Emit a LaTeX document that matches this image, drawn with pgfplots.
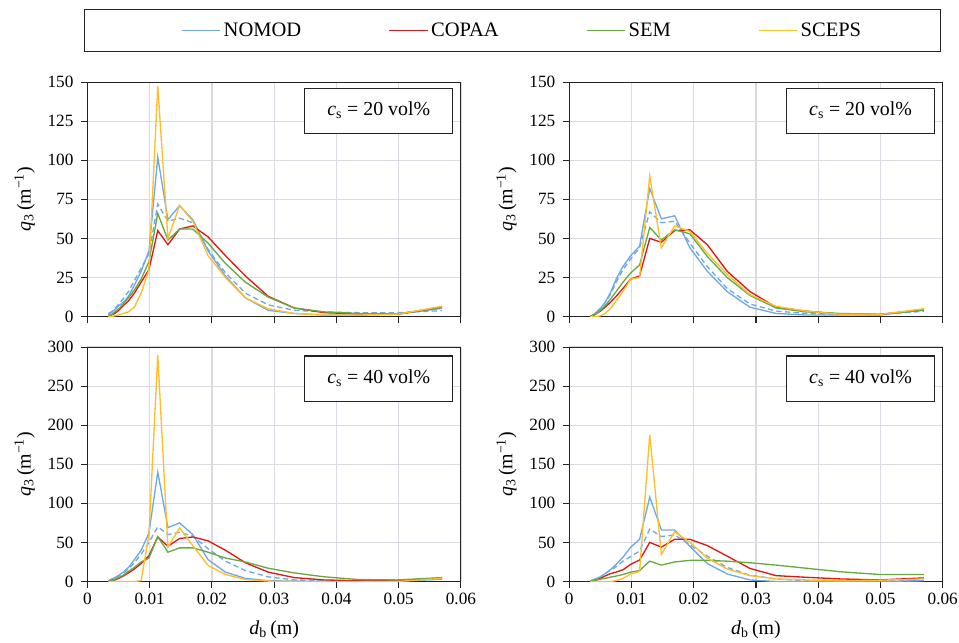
\documentclass[border=0pt]{standalone}
\usepackage{fontspec}
\setmainfont{Liberation Serif}
\usepackage{pgfplots}
\usepackage{pgfplotstable}
\pgfplotsset{compat=1.18}

\definecolor{nomodc}{RGB}{110,168,230}
\definecolor{copaac}{RGB}{224,22,22}
\definecolor{semc}{RGB}{104,170,64}
\definecolor{scepsc}{RGB}{255,190,40}
\definecolor{gridc}{RGB}{222,216,226}
\definecolor{framec}{RGB}{35,35,35}

% d_b (m), q3 per model, mean = dashed blue
\pgfplotstableread{
d       nomod copaa sem  sceps mean
0.00336 1     0     0    0     2
0.00384 2.5   1     1    0     3
0.00440 4.5   2     3    0.5   5
0.00503 7     4     5    1     8
0.00576 9     7     8    2     11.5
0.00659 13    10    12   3     16
0.00754 20    15    17   6     23
0.00863 29    22    24   15    31
0.00988 42    30    35   30    40
0.01130 102   55    66   147.5 72
0.01293 62    46    49   50    61
0.01480 71    56    56   71    63
0.01693 62    58    56   61    60
0.01938 42    51    47   39    43
0.02217 26    39    34   25    28
0.02537 12    26    22   12    15
0.02903 4     13    12.5 5     7.5
0.03322 2     5.5   5.5  2     4
0.03802 1     2.5   3    1     3
0.04350 1     1.7   2    1     2.5
0.04978 1.5   1.5   1.5  1.5   2.5
0.05696 5.3   6     6    6.6   3.8
}\tl

\pgfplotstableread{
d       nomod copaa sem  sceps mean
0.00336 0     0     0    0     0
0.00384 1     0.5   1    0     1
0.00440 3     2     2    0     3
0.00503 5.5   3.5   4    0.5   5
0.00576 9     6     7    2     9
0.00659 15    9     11   5     14
0.00754 24    13    16   10    22
0.00863 32    18    22   16    30
0.00988 39    24    28   24    37
0.01130 45    26    33   25    44
0.01293 82    50    57   90    67
0.01480 62.5  47.5  49   44    60
0.01693 64.5  55    55.5 58    61
0.01938 44    55.5  53   54.5  47
0.02217 29    46    38.5 40.5  32
0.02537 16    29    25   27    18
0.02903 6     16    13.5 14    8
0.03322 2     6     5.5  6.5   3.5
0.03802 1     3.5   3    3.5   2
0.04350 1     1.7   2    1.5   1.5
0.04978 1     1.3   1.5  1.3   1.3
0.05696 4.5   4.5   4    5     3.4
}\tr

\pgfplotstableread{
d       nomod copaa sem  sceps mean
0.00336 1     0     0    0     1
0.00384 3     1     1    0     2
0.00440 5     2     3    0     4
0.00503 8     4     5    0     7
0.00576 12    7     8    0     11
0.00659 18    11    13   0     16
0.00754 28    16    18   0     24
0.00863 40    23    25   1     35
0.00988 62    33    30   60    50
0.01130 140   57    57.5 290   70
0.01293 69    45    37.5 44    60
0.01480 75    55    43   68.5  63
0.01693 60    57    43   46    58
0.01938 28    52    37.5 20.5  42
0.02217 12    40    30   9     26
0.02537 4     24    25   2.5   14
0.02903 1     12    17   0.5   6
0.03322 0.5   5     11   0     2
0.03802 0     2     6    0     1
0.04350 0     1     2.5  0     0.5
0.04978 0.5   1     2    0     1
0.05696 3     4.3   5    4     3
}\bl

\pgfplotstableread{
d       nomod copaa sem  sceps mean
0.00336 1     0     1    0     0
0.00384 2     1     1.5  0     1
0.00440 4     2     2    0     3
0.00503 6     4     3    0     6
0.00576 10    7     4    0     10
0.00659 15    10    5.5  0     14
0.00754 22    12    7    1     19
0.00863 31    15    9    4     26
0.00988 44    22    12   9.6   32
0.01130 54    27.5  14   13    39
0.01293 108   50    26   188   67
0.01480 66    44    21   34.6  57.5
0.01693 66    54    25   63.7  59.6
0.01938 45    54    27   50    47
0.02217 23    46    27   30    32.5
0.02537 9.6   32.5  26   16    18
0.02903 2     16.7  24   7.5   8
0.03322 0     7.5   21   3.3   3.3
0.03802 0     5.4   17   2     1
0.04350 0     3.3   12.5 1     0.5
0.04978 0     2     9    1.7   0.5
0.05696 1     4.6   9    3.3   1
}\br

\tikzset{
  cbox/.style={draw=framec, line width=0.8pt, fill=white, minimum width=112pt,
    minimum height=34pt, anchor=north east, font=\fontsize{15}{15}\selectfont},
  lnomod/.style={nomodc, line width=1pt},
  lcopaa/.style={copaac, line width=1pt},
  lsem/.style={semc, line width=1pt},
  lsceps/.style={scepsc, line width=1pt},
  lmean/.style={nomodc, line width=1pt, dash pattern=on 4pt off 2.5pt},
}

\pgfplotsset{
  panel/.style={
    scale only axis, width=282pt, height=177pt,
    xmin=0, xmax=0.06,
    xtick={0,0.01,0.02,0.03,0.04,0.05,0.06},
    scaled x ticks=false,
    xticklabel style={/pgf/number format/fixed, /pgf/number format/precision=2},
    yticklabel style={xshift=-2pt},
    ymin=0,
    grid=major, grid style={gridc, line width=0.9pt},
    axis line style={framec, line width=0.8pt},
    tick style={framec, line width=0.8pt},
    tick align=outside, major tick length=5pt,
    xtick pos=bottom, ytick pos=left,
    tick label style={font=\fontsize{13}{13}\selectfont},
    /pgf/number format/assume math mode=true,
    label style={font=\fontsize{15}{15}\selectfont},
    ylabel={\textit{q}\textsubscript{3}\,(m\textsuperscript{−1})},
    ylabel style={at={(axis description cs:-0.168,0.5)}, anchor=center},
  },
  top/.style={ymax=150, ytick={0,25,50,75,100,125,150}, xticklabels={,,,,,,}},
  bottom/.style={ymax=300, ytick={0,50,100,150,200,250,300},
    xlabel={\textit{d}\textsubscript{b}\,(m)},
    xlabel style={at={(axis description cs:0.5,-0.206)}, anchor=center}},
}

\begin{document}
\begin{tikzpicture}
\useasboundingbox (-66pt,-423.2pt) rectangle (658pt,62pt);
% top left
\begin{axis}[panel, top, at={(0pt,0pt)}, anchor=north west,
  legend style={at={(1.165,1.219)}, anchor=center, legend columns=4,
    draw=none, fill=none, font=\fontsize{15.5}{15.5}\selectfont,
    inner xsep=62pt, inner ysep=8pt,
    /tikz/every even column/.append style={column sep=64pt}},
  legend image code/.code={\draw[#1] (0pt,0pt) -- (29pt,0pt);},
]
\addplot[lmean, forget plot] table[x=d, y=mean] {\tl};
\addplot[lnomod] table[x=d, y=nomod] {\tl};
\addlegendentry{NOMOD}
\addplot[lcopaa] table[x=d, y=copaa] {\tl};
\addlegendentry{COPAA}
\addplot[lsem] table[x=d, y=sem] {\tl};
\addlegendentry{SEM}
\addplot[lsceps] table[x=d, y=sceps] {\tl};
\addlegendentry{SCEPS}
\node[cbox] at (rel axis cs:0.98,0.977) {\textit{c}\textsubscript{s} = 20 vol\%};
\end{axis}
% legend frame
\draw[framec, line width=0.8pt] (-2.25pt,23pt) rectangle (644.25pt,54.5pt);

% top right
\begin{axis}[panel, top, at={(363.75pt,0pt)}, anchor=north west]
\addplot[lmean] table[x=d, y=mean] {\tr};
\addplot[lnomod] table[x=d, y=nomod] {\tr};
\addplot[lcopaa] table[x=d, y=copaa] {\tr};
\addplot[lsem] table[x=d, y=sem] {\tr};
\addplot[lsceps] table[x=d, y=sceps] {\tr};
\node[cbox] at (rel axis cs:0.98,0.977) {\textit{c}\textsubscript{s} = 20 vol\%};
\end{axis}

% bottom left
\begin{axis}[panel, bottom, at={(0pt,-200pt)}, anchor=north west]
\addplot[lmean] table[x=d, y=mean] {\bl};
\addplot[lnomod] table[x=d, y=nomod] {\bl};
\addplot[lcopaa] table[x=d, y=copaa] {\bl};
\addplot[lsem] table[x=d, y=sem] {\bl};
\addplot[lsceps] table[x=d, y=sceps] {\bl};
\node[cbox] at (rel axis cs:0.98,0.964) {\textit{c}\textsubscript{s} = 40 vol\%};
\end{axis}

% bottom right
\begin{axis}[panel, bottom, at={(363.75pt,-200pt)}, anchor=north west]
\addplot[lmean] table[x=d, y=mean] {\br};
\addplot[lnomod] table[x=d, y=nomod] {\br};
\addplot[lcopaa] table[x=d, y=copaa] {\br};
\addplot[lsem] table[x=d, y=sem] {\br};
\addplot[lsceps] table[x=d, y=sceps] {\br};
\node[cbox] at (rel axis cs:0.98,0.964) {\textit{c}\textsubscript{s} = 40 vol\%};
\end{axis}
\end{tikzpicture}
\end{document}
